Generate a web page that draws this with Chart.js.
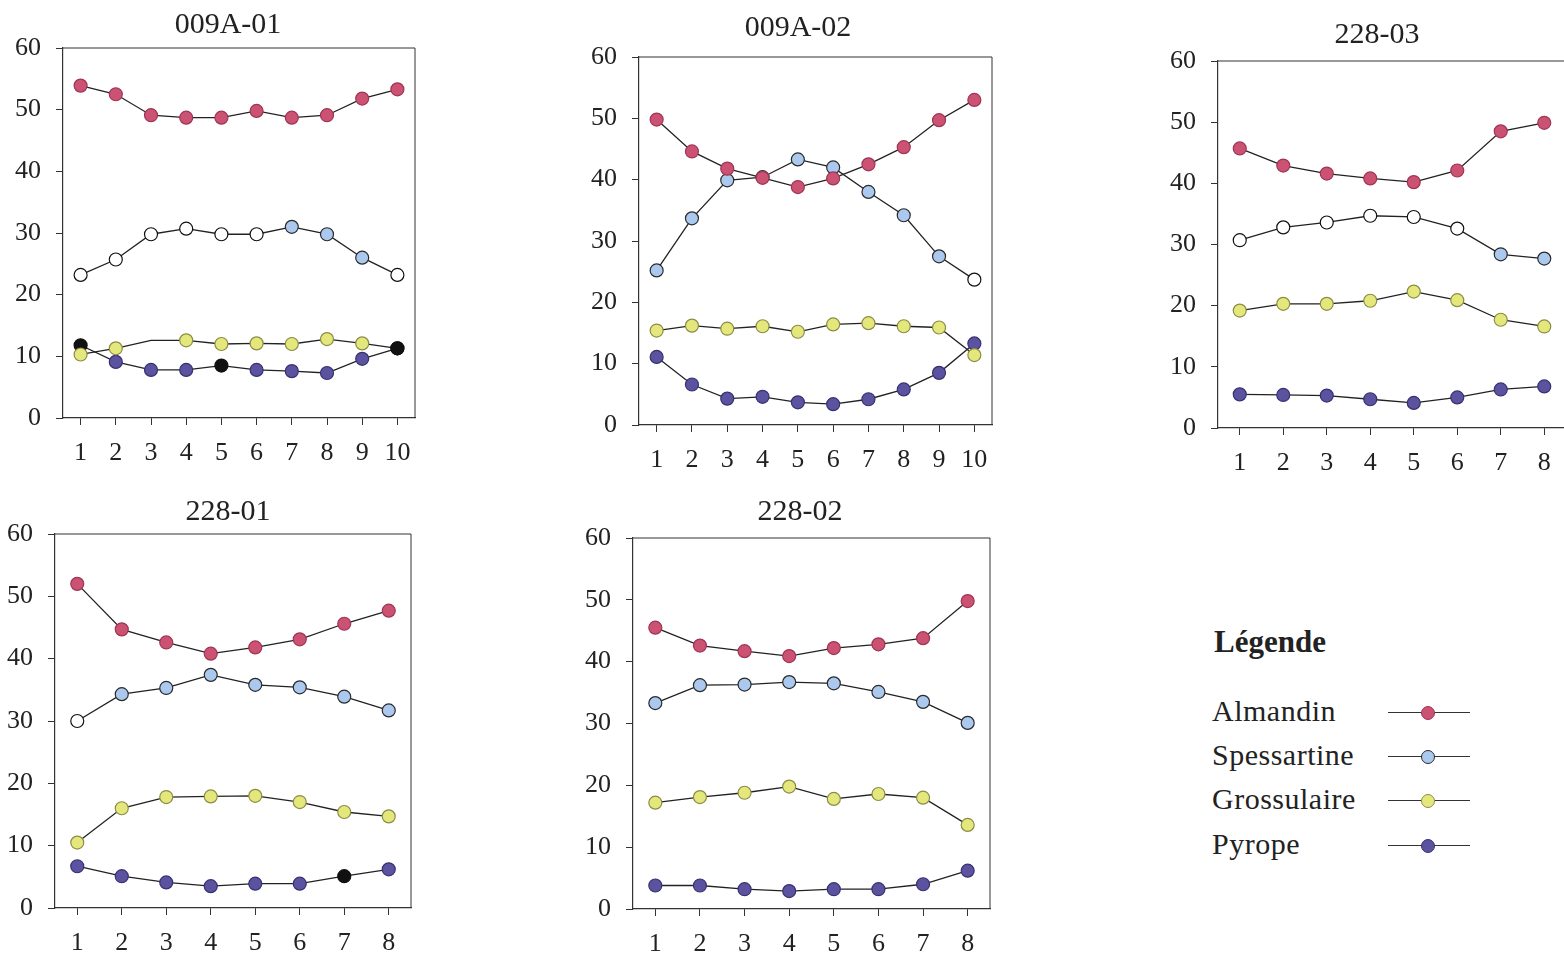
<!DOCTYPE html>
<html>
<head>
<meta charset="utf-8">
<script src="https://cdn.jsdelivr.net/npm/chart.js@4.4.1/dist/chart.umd.min.js"></script>
<style>
  body { margin: 0; background: #fff; width: 1564px; height: 961px; overflow: hidden; position: relative; font-family: "Liberation Serif", "DejaVu Serif", serif; color: #222; }
  canvas { position: absolute; }
  .leg-title { position: absolute; left: 1214px; top: 624px; font-size: 31px; font-weight: bold; }
  .leg-item { position: absolute; left: 1212px; font-size: 30px; line-height: 32px; letter-spacing: 0.5px; }
  .leg-line { position: absolute; left: 1388px; width: 82px; height: 0; border-top: 1.5px solid #333; }
  .leg-dot { position: absolute; left: 1421px; width: 12px; height: 12px; border-radius: 50%; }
</style>
</head>
<body>

<canvas id="c1"></canvas>
<canvas id="c2"></canvas>
<canvas id="c3"></canvas>
<canvas id="c4"></canvas>
<canvas id="c5"></canvas>

<div class="leg-title">Légende</div>
<div id="legend"></div>

<script>
// series names and categories
const seriesNames = ['Almandin', 'Spessartine', 'Grossulaire', 'Pyrope'];
const points10 = ['1', '2', '3', '4', '5', '6', '7', '8', '9', '10'];
const points8 = ['1', '2', '3', '4', '5', '6', '7', '8'];
const yTicks = [0, 10, 20, 30, 40, 50, 60];

// 009A-01
const alm009A01 = [53.9, 52.5, 49.1, 48.7, 48.7, 49.8, 48.7, 49.1, 51.8, 53.3];
const spe009A01 = [23.2, 25.7, 29.8, 30.7, 29.8, 29.8, 31.0, 29.8, 26.0, 23.2];
const gro009A01 = [10.3, 11.3, 12.6, 12.6, 12.0, 12.1, 12.0, 12.8, 12.1, 11.3];
const pyr009A01 = [11.8, 9.1, 7.8, 7.8, 8.5, 7.8, 7.6, 7.3, 9.6, 11.3];

// 009A-02
const alm009A02 = [49.8, 44.6, 41.8, 40.3, 38.8, 40.2, 42.5, 45.3, 49.7, 53.0];
const spe009A02 = [25.2, 33.7, 39.9, 40.4, 43.3, 42.0, 38.0, 34.2, 27.5, 23.7];
const gro009A02 = [15.4, 16.2, 15.7, 16.1, 15.2, 16.4, 16.6, 16.1, 15.9, 11.4];
const pyr009A02 = [11.1, 6.6, 4.3, 4.6, 3.7, 3.4, 4.2, 5.8, 8.5, 13.3];

// 228-03
const alm22803 = [45.7, 42.9, 41.6, 40.8, 40.2, 42.1, 48.5, 49.9];
const spe22803 = [30.7, 32.8, 33.6, 34.7, 34.5, 32.6, 28.4, 27.7];
const gro22803 = [19.2, 20.3, 20.3, 20.8, 22.3, 20.9, 17.7, 16.6];
const pyr22803 = [5.5, 5.4, 5.3, 4.7, 4.1, 5.0, 6.3, 6.8];

// 228-01
const alm22801 = [52.0, 44.7, 42.6, 40.8, 41.8, 43.1, 45.6, 47.7];
const spe22801 = [30.0, 34.3, 35.3, 37.4, 35.8, 35.4, 33.9, 31.7];
const gro22801 = [10.5, 16.0, 17.8, 17.9, 18.0, 17.0, 15.4, 14.7];
const pyr22801 = [6.7, 5.1, 4.1, 3.5, 3.9, 3.9, 5.1, 6.2];

// 228-02
const alm22802 = [45.5, 42.6, 41.7, 40.9, 42.2, 42.8, 43.8, 49.8];
const spe22802 = [33.3, 36.2, 36.3, 36.7, 36.5, 35.1, 33.5, 30.1];
const gro22802 = [17.2, 18.1, 18.8, 19.8, 17.8, 18.6, 18.0, 13.6];
const pyr22802 = [3.8, 3.8, 3.2, 2.9, 3.2, 3.2, 4.0, 6.2];

// marker colours
const fills = ['#cc5274', '#abc9ef', '#e4e87c', '#5b53a0'];
const edges = ['#9e3555', '#2a2a2a', '#8c8c45', '#37326f'];

function pointFills(i, n, whites, blacks) {
  const arr = [];
  for (let k = 0; k < n; k++) {
    if (whites && whites.includes(k)) arr.push('#ffffff');
    else if (blacks && blacks.includes(k)) arr.push('#111111');
    else arr.push(fills[i]);
  }
  return arr;
}

function makeDatasets(series, n, marks) {
  return series.map((vals, i) => {
    const m = marks[i] || {};
    const radii = vals.map((v, k) => (m.hidden && m.hidden.includes(k)) ? 0 : 6.5);
    return {
      label: seriesNames[i],
      data: vals,
      borderColor: '#222',
      borderWidth: 1.3,
      tension: 0,
      pointRadius: radii,
      pointBackgroundColor: pointFills(i, n, m.whites, m.blacks),
      pointBorderColor: vals.map((v, k) => (m.whites && m.whites.includes(k)) || (m.blacks && m.blacks.includes(k)) ? '#111' : edges[i]),
      pointBorderWidth: 1.2
    };
  });
}

const boxPlugin = {
  id: 'panelBox',
  afterDraw(chart, args, opts) {
    const { ctx, chartArea: a } = chart;
    ctx.save();
    ctx.strokeStyle = '#333';
    ctx.lineWidth = 1;
    ctx.beginPath();
    ctx.moveTo(a.left, a.top);
    ctx.lineTo(a.right, a.top);
    ctx.lineTo(a.right, a.bottom);
    ctx.stroke();
    ctx.fillStyle = '#222';
    ctx.font = '30px "Liberation Serif", serif';
    ctx.textAlign = 'center';
    ctx.textBaseline = 'middle';
    ctx.fillText(opts.text, opts.x, opts.y);
    ctx.restore();
  }
};

function renderPanel(id, title, geo, labels, series, marks) {
  const cv = document.getElementById(id);
  const left = geo.l - 70, top = geo.t - 55;
  cv.style.left = left + 'px';
  cv.style.top = top + 'px';
  cv.width = geo.r - geo.l + 100;
  cv.height = geo.b - geo.t + 115;
  new Chart(cv, {
    type: 'line',
    data: { labels: labels, datasets: makeDatasets(series, labels.length, marks) },
    plugins: [boxPlugin],
    options: {
      responsive: false,
      animation: false,
      layout: { padding: { top: 55, right: 30, left: 0, bottom: 0 } },
      plugins: {
        legend: { display: false },
        tooltip: { enabled: false },
        panelBox: { text: title, x: geo.tx - left, y: geo.ty - top }
      },
      scales: {
        x: {
          type: 'category',
          offset: true,
          grid: { drawOnChartArea: false, drawTicks: true, tickLength: 7, color: '#333' },
          border: { display: true, color: '#333', width: 1.2 },
          ticks: { color: '#222', padding: 13, font: { family: '"Liberation Serif", serif', size: 26 }, maxRotation: 0, autoSkip: false },
          afterFit: (s) => { s.height = 60; }
        },
        y: {
          min: 0, max: 60,
          afterBuildTicks: (s) => { s.ticks = yTicks.map(v => ({ value: v })); },
          grid: { drawOnChartArea: false, drawTicks: true, tickLength: 7, color: '#333' },
          border: { display: true, color: '#333', width: 1.2 },
          ticks: { color: '#222', padding: 15, font: { family: '"Liberation Serif", serif', size: 26 } },
          afterFit: (s) => { s.width = 70; }
        }
      }
    }
  });
}

renderPanel('c1', '009A-01', { l: 63, r: 415, t: 48, b: 418, tx: 228, ty: 25 }, points10,
  [alm009A01, spe009A01, gro009A01, pyr009A01],
  [{}, { whites: [0, 1, 2, 3, 4, 5, 9] }, { hidden: [2], blacks: [9] }, { blacks: [0, 4, 9] }]);

renderPanel('c2', '009A-02', { l: 639, r: 992, t: 57, b: 425, tx: 798, ty: 28 }, points10,
  [alm009A02, spe009A02, gro009A02, pyr009A02],
  [{}, { whites: [9] }, {}, {}]);

renderPanel('c3', '228-03', { l: 1218, r: 1566, t: 61, b: 428, tx: 1377, ty: 35 }, points8,
  [alm22803, spe22803, gro22803, pyr22803],
  [{}, { whites: [0, 1, 2, 3, 4, 5] }, {}, {}]);

renderPanel('c4', '228-01', { l: 55, r: 411, t: 534, b: 908, tx: 228, ty: 512 }, points8,
  [alm22801, spe22801, gro22801, pyr22801],
  [{}, { whites: [0] }, {}, { blacks: [6] }]);

renderPanel('c5', '228-02', { l: 633, r: 990, t: 538, b: 909, tx: 800, ty: 512 }, points8,
  [alm22802, spe22802, gro22802, pyr22802],
  [{}, {}, {}, {}]);

// legend
const legendRows = [712, 756, 800, 845];
const legend = document.getElementById('legend');
seriesNames.forEach((name, i) => {
  const y = legendRows[i];
  const t = document.createElement('div');
  t.className = 'leg-item';
  t.style.top = (y - 17) + 'px';
  t.textContent = name;
  legend.appendChild(t);
  const ln = document.createElement('div');
  ln.className = 'leg-line';
  ln.style.top = y + 'px';
  legend.appendChild(ln);
  const d = document.createElement('div');
  d.className = 'leg-dot';
  d.style.top = (y - 6) + 'px';
  d.style.background = fills[i];
  d.style.border = '1px solid ' + edges[i];
  legend.appendChild(d);
});
</script>
</body>
</html>
